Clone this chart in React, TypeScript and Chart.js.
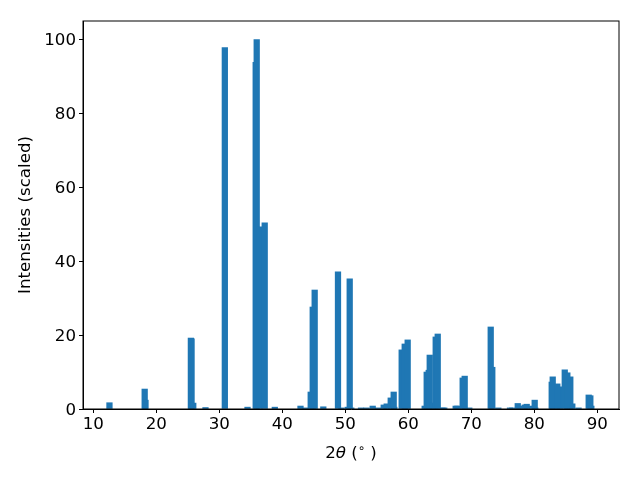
import React, { useEffect, useRef } from "react";
import { Chart, registerables } from "chart.js";

Chart.register(...registerables);

// Peak positions (2θ, degrees), listed in drawing order
const twoTheta = [
  12.57, 18.16, 18.29, 25.49, 25.6, 25.87, 27.81, 30.88, 34.48, 35.78,
  35.94, 36.35, 37.21, 38.81, 42.89, 43.68, 44.51, 44.83, 45.14, 46.51,
  48.84, 49.37, 50.38, 50.7, 50.95, 52.49, 53.37, 54.35, 55.19, 56.1,
  56.57, 57.21, 57.68, 57.78, 58.95, 59.43, 59.9, 62.6, 62.92, 63.24,
  63.4, 63.87, 64.35, 64.67, 65.43, 65.71, 67.52, 67.78, 68.63, 68.95,
  69.68, 73.08, 73.33, 74.29, 76.14, 76.51, 77.37, 77.62, 78.48, 78.79,
  79.59, 80.06, 80.16, 82.76, 82.92, 83.97, 83.65, 84.83, 85.71, 85.24,
  86.03, 87.02, 88.63, 88.89, 89.05,
];

// Scaled intensities, same order
const intensity = [
  1.7, 5.4, 2.4, 19.2, 19.0, 1.6, 0.4, 97.8, 0.5, 93.8,
  100, 49.3, 50.4, 0.5, 0.8, 0.3, 4.6, 27.6, 32.2, 0.6,
  37.1, 0.3, 0.5, 35.2, 0.3, 0.3, 0.3, 0.8, 0.3, 1.1,
  1.4, 3.0, 4.6, 0.5, 16.0, 17.6, 18.7, 0.8, 10.0, 10.5,
  14.6, 1.6, 19.5, 20.3, 0.3, 0.3, 0.8, 0.8, 8.4, 8.9,
  0.3, 22.2, 11.3, 0.3, 0.3, 0.3, 1.5, 0.8, 1.1, 1.3,
  0.8, 2.4, 0.3, 7.3, 8.7, 6.0, 6.8, 10.6, 8.7, 9.8,
  1.4, 0.3, 3.8, 3.6, 0.8,
];

const xTicks = [10, 20, 30, 40, 50, 60, 70, 80, 90];
const yTicks = [0, 20, 40, 60, 80, 100];
const xRange = [8.37, 93.44];
const yRange = [0, 105];

const yLabel = "Intensities (scaled)";

const FONT = "DejaVu Sans";
const FS = 16.67;

export default function App() {
  const ref = useRef<HTMLCanvasElement>(null);

  useEffect(() => {
    document.body.style.margin = "0";
    const canvas = ref.current;
    if (!canvas) return;

    const framePlugin = {
      id: "frameAndLabels",
      afterDraw(chart: any) {
        const { ctx, chartArea: a } = chart;
        ctx.save();
        ctx.strokeStyle = "#000";
        ctx.lineWidth = 1;
        ctx.strokeRect(a.left, a.top, a.right - a.left, a.bottom - a.top);

        // y label
        ctx.fillStyle = "#000";
        ctx.font = `${FS}px "${FONT}"`;
        ctx.textAlign = "center";
        ctx.textBaseline = "middle";
        ctx.save();
        ctx.translate(26, (a.top + a.bottom) / 2);
        ctx.rotate(-Math.PI / 2);
        ctx.fillText(yLabel, 0, 0);
        ctx.restore();

        // x label: 2θ (°)
        const parts: { t: string; font: string; dy: number }[] = [
          { t: "2", font: `${FS}px "${FONT}"`, dy: 0 },
          { t: "θ", font: `italic ${FS}px "${FONT}"`, dy: 0 },
          { t: " (", font: `${FS}px "${FONT}"`, dy: 0 },
          { t: "∘", font: `${FS * 0.7}px "${FONT}"`, dy: -6 },
          { t: " )", font: `${FS}px "${FONT}"`, dy: 0 },
        ];
        let total = 0;
        const widths = parts.map((p) => {
          ctx.font = p.font;
          const w = ctx.measureText(p.t).width;
          total += w;
          return w;
        });
        let x = (a.left + a.right) / 2 - total / 2;
        const baseY = 458;
        ctx.textAlign = "left";
        ctx.textBaseline = "alphabetic";
        parts.forEach((p, i) => {
          ctx.font = p.font;
          ctx.fillText(p.t, x, baseY + p.dy);
          x += widths[i];
        });
        ctx.restore();
      },
    };

    const chart = new Chart(canvas, {
      type: "bar",
      data: {
        datasets: [
          {
            data: twoTheta.map((x, i) => ({ x, y: intensity[i] })),
            backgroundColor: "#1f77b4",
            borderWidth: 0,
            barThickness: 5.6,
          },
        ],
      },
      options: {
        responsive: false,
        animation: false,
        devicePixelRatio: 1,
        layout: { padding: { top: 21, right: 21, left: 0, bottom: 0 } },
        plugins: {
          legend: { display: false },
          tooltip: { enabled: false },
        },
        scales: {
          x: {
            type: "linear",
            min: xRange[0],
            max: xRange[1],
            offset: false,
            afterBuildTicks: (s: any) => {
              s.ticks = xTicks.map((v) => ({ value: v }));
            },
            afterFit: (s: any) => {
              s.height = 71;
            },
            grid: {
              offset: false,
              drawOnChartArea: false,
              drawTicks: true,
              tickLength: 4,
              color: "#000",
            },
            border: { display: true, color: "#000" },
            ticks: {
              color: "#000",
              font: { family: FONT, size: FS },
              padding: 2,
              maxRotation: 0,
              autoSkip: false,
            },
          },
          y: {
            type: "linear",
            min: yRange[0],
            max: yRange[1],
            afterBuildTicks: (s: any) => {
              s.ticks = yTicks.map((v) => ({ value: v }));
            },
            afterFit: (s: any) => {
              s.width = 83;
            },
            grid: {
              offset: false,
              drawOnChartArea: false,
              drawTicks: true,
              tickLength: 4,
              color: "#000",
            },
            border: { display: true, color: "#000" },
            ticks: {
              color: "#000",
              font: { family: FONT, size: FS },
              padding: 3,
              labelOffset: 1.5,
              autoSkip: false,
            },
          },
        },
      },
      plugins: [framePlugin],
    } as any);

    return () => chart.destroy();
  }, []);

  return (
    <div style={{ position: "absolute", left: 0, top: 0, width: 640, height: 480, background: "#fff" }}>
      <canvas ref={ref} width={640} height={480} />
    </div>
  );
}
